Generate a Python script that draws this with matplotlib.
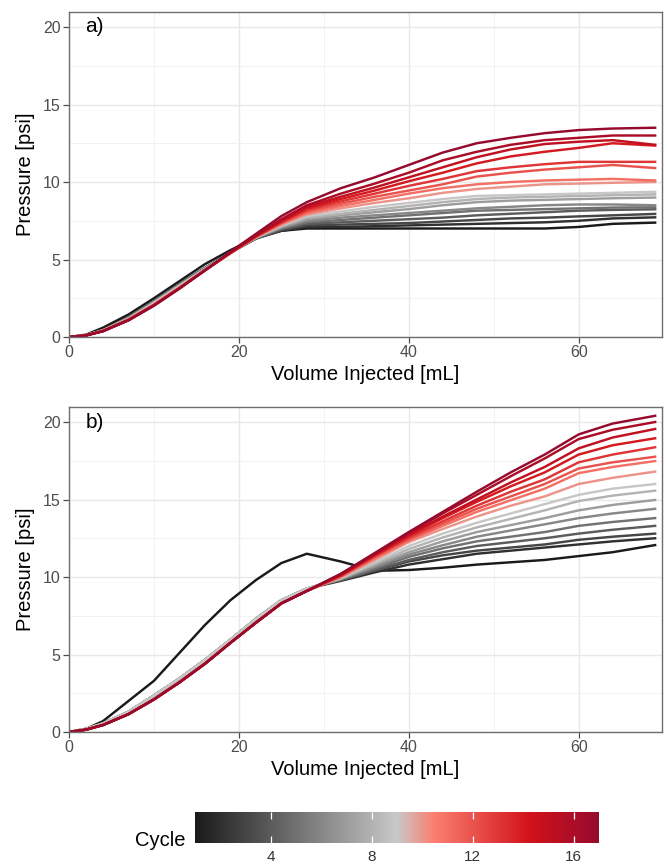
import numpy as np
import matplotlib
matplotlib.use("Agg")
import matplotlib.pyplot as plt
from matplotlib.colors import LinearSegmentedColormap, Normalize
from matplotlib.cm import ScalarMappable

plt.rcParams['font.family'] = ['Liberation Sans', 'DejaVu Sans']

# injected volume grid [mL]
volume = [0, 2, 4, 7, 10, 13, 16, 19, 22, 25, 28, 32, 36, 40, 44, 48, 52, 56, 60, 64, 69]
cycles = list(range(1, 18))

# panel a) pressure [psi], one row per cycle (1..17)
pressure_a = [
    [0, 0.15, 0.6, 1.45, 2.5, 3.6, 4.7, 5.6, 6.4, 6.85, 7.0, 7.0, 7.0, 7.0, 7.0, 7.0, 7.0, 7.0, 7.1, 7.3, 7.38],
    [0, 0.12, 0.45, 1.25, 2.3, 3.4, 4.45, 5.45, 6.35, 6.85, 7.1, 7.1, 7.15, 7.2, 7.25, 7.3, 7.35, 7.4, 7.5, 7.65, 7.72],
    [0, 0.12, 0.45, 1.25, 2.3, 3.4, 4.45, 5.45, 6.35, 6.9, 7.2, 7.25, 7.3, 7.35, 7.45, 7.55, 7.65, 7.7, 7.78, 7.85, 7.94],
    [0, 0.12, 0.44, 1.24, 2.28, 3.38, 4.43, 5.45, 6.35, 6.95, 7.3, 7.4, 7.5, 7.6, 7.7, 7.85, 7.95, 8.05, 8.15, 8.2, 8.24],
    [0, 0.12, 0.44, 1.23, 2.27, 3.37, 4.42, 5.45, 6.38, 7.0, 7.4, 7.55, 7.7, 7.85, 8.0, 8.15, 8.2, 8.25, 8.3, 8.35, 8.37],
    [0, 0.11, 0.43, 1.22, 2.25, 3.35, 4.4, 5.45, 6.4, 7.05, 7.5, 7.7, 7.85, 8.0, 8.15, 8.3, 8.4, 8.5, 8.55, 8.55, 8.5],
    [0, 0.11, 0.43, 1.2, 2.23, 3.33, 4.4, 5.45, 6.4, 7.1, 7.6, 7.85, 8.05, 8.25, 8.5, 8.7, 8.8, 8.85, 8.9, 8.95, 9.0],
    [0, 0.11, 0.42, 1.18, 2.2, 3.3, 4.38, 5.45, 6.42, 7.15, 7.7, 7.95, 8.2, 8.45, 8.7, 8.9, 9.0, 9.05, 9.1, 9.15, 9.2],
    [0, 0.11, 0.42, 1.16, 2.18, 3.28, 4.37, 5.45, 6.42, 7.2, 7.8, 8.1, 8.4, 8.65, 8.9, 9.1, 9.15, 9.2, 9.25, 9.3, 9.37],
    [0, 0.1, 0.4, 1.13, 2.1, 3.2, 4.32, 5.42, 6.45, 7.25, 7.9, 8.3, 8.65, 8.95, 9.3, 9.55, 9.7, 9.85, 9.9, 9.95, 10.0],
    [0, 0.1, 0.4, 1.12, 2.08, 3.18, 4.3, 5.4, 6.45, 7.3, 8.0, 8.45, 8.85, 9.25, 9.6, 9.85, 10.0, 10.1, 10.15, 10.2, 10.1],
    [0, 0.1, 0.39, 1.11, 2.07, 3.17, 4.3, 5.4, 6.47, 7.35, 8.1, 8.6, 9.05, 9.45, 9.85, 10.35, 10.6, 10.8, 10.95, 11.1, 10.9],
    [0, 0.1, 0.39, 1.1, 2.06, 3.16, 4.3, 5.42, 6.48, 7.4, 8.2, 8.75, 9.25, 9.75, 10.2, 10.7, 10.95, 11.15, 11.3, 11.3, 11.3],
    [0, 0.1, 0.38, 1.1, 2.05, 3.15, 4.3, 5.43, 6.5, 7.45, 8.3, 8.9, 9.45, 10.05, 10.6, 11.2, 11.65, 11.95, 12.2, 12.5, 12.35],
    [0, 0.1, 0.38, 1.09, 2.04, 3.14, 4.3, 5.45, 6.52, 7.5, 8.4, 9.05, 9.65, 10.3, 10.95, 11.6, 12.1, 12.45, 12.6, 12.7, 12.4],
    [0, 0.1, 0.38, 1.08, 2.03, 3.13, 4.3, 5.47, 6.55, 7.6, 8.5, 9.25, 9.9, 10.6, 11.4, 11.95, 12.4, 12.7, 12.85, 13.0, 13.0],
    [0, 0.1, 0.37, 1.07, 2.02, 3.12, 4.3, 5.5, 6.65, 7.8, 8.7, 9.6, 10.3, 11.1, 11.9, 12.5, 12.85, 13.15, 13.35, 13.45, 13.5],
]

# panel b) pressure [psi], one row per cycle (1..17)
pressure_b = [
    [0, 0.2, 0.7, 2.0, 3.3, 5.1, 6.9, 8.5, 9.8, 10.9, 11.5, 11.0, 10.4, 10.45, 10.6, 10.8, 10.95, 11.1, 11.35, 11.6, 12.06],
    [0, 0.2, 0.55, 1.3, 2.35, 3.45, 4.65, 5.95, 7.3, 8.5, 9.25, 9.75, 10.3, 10.8, 11.15, 11.5, 11.7, 11.9, 12.1, 12.3, 12.5],
    [0, 0.2, 0.55, 1.3, 2.35, 3.45, 4.65, 5.95, 7.3, 8.5, 9.25, 9.8, 10.4, 11.0, 11.4, 11.7, 11.9, 12.1, 12.4, 12.6, 12.8],
    [0, 0.2, 0.55, 1.3, 2.35, 3.45, 4.65, 5.95, 7.3, 8.5, 9.25, 9.8, 10.45, 11.1, 11.6, 12.0, 12.25, 12.5, 12.8, 13.05, 13.3],
    [0, 0.2, 0.55, 1.3, 2.35, 3.45, 4.65, 5.95, 7.3, 8.5, 9.25, 9.85, 10.55, 11.3, 11.85, 12.3, 12.6, 12.9, 13.3, 13.55, 13.8],
    [0, 0.2, 0.55, 1.3, 2.35, 3.45, 4.65, 5.95, 7.3, 8.5, 9.25, 9.85, 10.65, 11.45, 12.05, 12.6, 13.0, 13.4, 13.8, 14.1, 14.4],
    [0, 0.2, 0.55, 1.3, 2.35, 3.45, 4.65, 5.95, 7.3, 8.5, 9.25, 9.9, 10.75, 11.6, 12.3, 12.9, 13.35, 13.8, 14.3, 14.65, 14.97],
    [0, 0.2, 0.55, 1.3, 2.35, 3.45, 4.65, 5.95, 7.3, 8.5, 9.25, 9.9, 10.85, 11.8, 12.55, 13.2, 13.75, 14.3, 14.9, 15.25, 15.57],
    [0, 0.2, 0.55, 1.3, 2.35, 3.45, 4.65, 5.95, 7.3, 8.5, 9.25, 9.95, 10.95, 12.0, 12.8, 13.5, 14.1, 14.7, 15.3, 15.7, 16.0],
    [0, 0.15, 0.45, 1.15, 2.1, 3.2, 4.4, 5.75, 7.05, 8.3, 9.1, 10.0, 11.1, 12.25, 13.1, 13.9, 14.6, 15.2, 16.0, 16.4, 16.8],
    [0, 0.15, 0.45, 1.15, 2.1, 3.2, 4.4, 5.75, 7.05, 8.3, 9.1, 10.0, 11.2, 12.35, 13.3, 14.2, 14.95, 15.7, 16.7, 17.1, 17.48],
    [0, 0.15, 0.45, 1.15, 2.1, 3.2, 4.4, 5.75, 7.05, 8.3, 9.1, 10.05, 11.3, 12.45, 13.45, 14.4, 15.2, 16.0, 17.0, 17.4, 17.76],
    [0, 0.15, 0.45, 1.15, 2.1, 3.2, 4.4, 5.75, 7.05, 8.3, 9.1, 10.1, 11.35, 12.55, 13.6, 14.6, 15.5, 16.3, 17.4, 17.9, 18.37],
    [0, 0.15, 0.45, 1.15, 2.1, 3.2, 4.4, 5.75, 7.05, 8.3, 9.1, 10.1, 11.4, 12.65, 13.8, 14.85, 15.85, 16.75, 17.9, 18.5, 18.95],
    [0, 0.15, 0.45, 1.15, 2.1, 3.2, 4.4, 5.75, 7.05, 8.3, 9.1, 10.15, 11.45, 12.75, 13.9, 15.0, 16.1, 17.1, 18.3, 19.0, 19.55],
    [0, 0.15, 0.45, 1.15, 2.1, 3.2, 4.4, 5.75, 7.05, 8.3, 9.1, 10.2, 11.5, 12.85, 14.1, 15.3, 16.5, 17.65, 18.9, 19.5, 20.0],
    [0, 0.15, 0.45, 1.15, 2.1, 3.2, 4.4, 5.75, 7.05, 8.3, 9.1, 10.2, 11.55, 12.9, 14.2, 15.5, 16.75, 17.9, 19.2, 19.9, 20.4],
]

cbar_ticks = [4, 8, 12, 16]

# black -> grey -> salmon -> red -> dark red
cmap = LinearSegmentedColormap.from_list(
    "cycle",
    [(0.0, "#1a1a1a"), (0.5, "#c8c8c8"), (0.59, "#fa8072"),
     (0.83, "#d2121a"), (1.0, "#960a2e")])
norm = Normalize(vmin=1, vmax=17)

fig = plt.figure(figsize=(6.67, 8.67), dpi=100)
ax_a = fig.add_axes([0.1034, 0.6113, 0.889, 0.3749])
ax_b = fig.add_axes([0.1034, 0.1557, 0.889, 0.3749])


def style_panel(ax, tag):
    ax.set_xlim(0, 69.8)
    ax.set_ylim(0, 20.97)
    ax.set_xticks([0, 20, 40, 60])
    ax.set_yticks([0, 5, 10, 15, 20])
    ax.set_xticks([10, 30, 50], minor=True)
    ax.set_yticks([2.5, 7.5, 12.5, 17.5], minor=True)
    ax.grid(True, which='major', color='#e8e8e8', lw=1.0)
    ax.grid(True, which='minor', color='#f0f0f0', lw=0.6)
    ax.set_axisbelow(True)
    for s in ax.spines.values():
        s.set_color('#6e6e6e')
        s.set_linewidth(1.0)
    ax.tick_params(which='major', length=4, width=0.9, color='#4d4d4d',
                   labelcolor='#4d4d4d', labelsize=11.5, pad=2)
    ax.tick_params(which='minor', length=0)
    ax.set_xlabel("Volume Injected [mL]", fontsize=14.5, labelpad=3)
    ax.set_ylabel("Pressure [psi]", fontsize=14.5, labelpad=6)
    ax.text(3, 20, tag, fontsize=15, ha='center', va='center')


for ax, data, tag in [(ax_a, pressure_a, "a)"), (ax_b, pressure_b, "b)")]:
    style_panel(ax, tag)
    for c, p in zip(cycles, data):
        ax.plot(volume, p, color=cmap(norm(c)), lw=1.75, solid_joinstyle='round')

# colour bar for the cycle number
cax = fig.add_axes([0.2924, 0.0277, 0.6057, 0.0358])
cb = fig.colorbar(ScalarMappable(norm=norm, cmap=cmap), cax=cax,
                  orientation='horizontal')
cb.outline.set_visible(False)
cb.set_ticks(cbar_ticks)
cax.tick_params(which='both', direction='in', length=5, width=0.9,
                color='white', top=True, bottom=True,
                labelsize=11, labelcolor='#333333', pad=5)
cax.minorticks_off()
fig.text(185 / 667, 1 - 846 / 867, "Cycle", fontsize=14.5,
         ha='right', va='baseline')

fig.savefig("out.png", dpi=100)
